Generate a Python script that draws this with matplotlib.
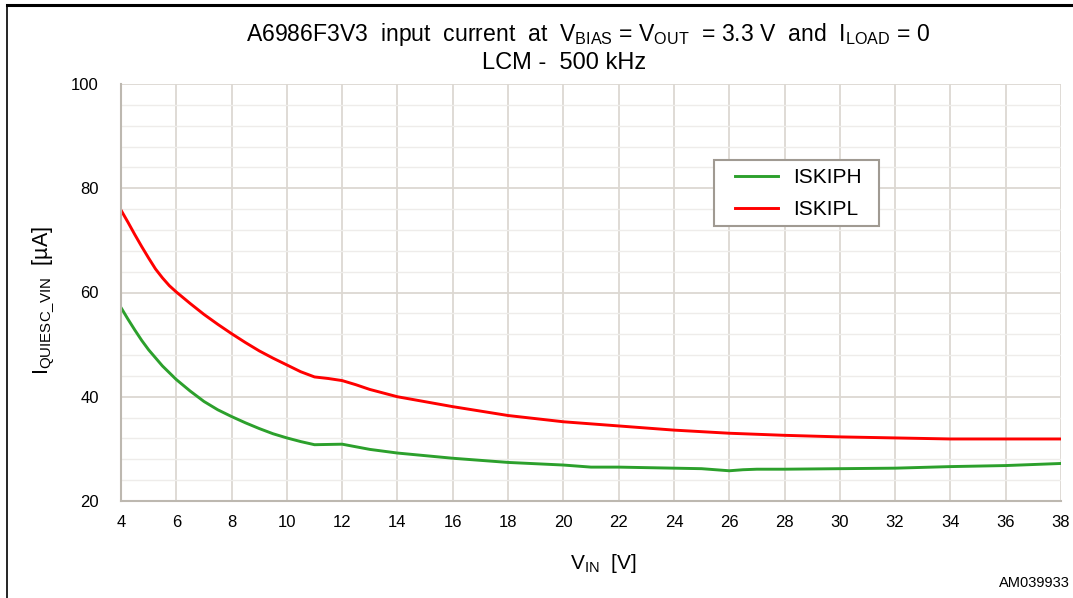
import matplotlib
matplotlib.use("Agg")
import matplotlib.pyplot as plt
from matplotlib.lines import Line2D
from matplotlib.patches import Rectangle
import numpy as np

plt.rcParams['font.family'] = ['Liberation Sans', 'DejaVu Sans']
plt.rcParams['mathtext.fontset'] = 'custom'
plt.rcParams['mathtext.rm'] = 'Liberation Sans'
plt.rcParams['mathtext.it'] = 'Liberation Sans'

# Data
vin_h = [4, 4.25, 4.5, 4.75, 5, 5.5, 6, 6.5, 7, 7.5, 8, 8.5, 9, 9.5, 10, 10.5, 11, 11.5, 12, 12.5, 13, 14,
         16, 18, 20, 21, 22, 24, 25, 26, 26.5, 27, 28, 30, 32, 34, 36, 38]
iskiph = [57.1, 54.9, 52.8, 50.8, 49.0, 45.9, 43.3, 41.1, 39.1, 37.5, 36.2, 35.0, 33.9, 32.9, 32.1, 31.4,
          30.8, 30.85, 30.9, 30.4, 29.9, 29.2,
          28.2, 27.4, 26.9, 26.5, 26.5, 26.3, 26.2, 25.8, 26.0, 26.1, 26.1, 26.2, 26.3, 26.6, 26.8, 27.2]
vin_l = [4, 4.25, 4.5, 4.75, 5, 5.25, 5.5, 5.75, 6, 6.5, 7, 7.5, 8, 8.5, 9, 9.5, 10, 10.5, 11, 11.5,
         12, 12.5, 13, 14, 16, 18, 20, 22, 24, 26, 28, 30, 32, 34, 36, 38]
iskipl = [75.8, 73.5, 71.1, 68.8, 66.6, 64.5, 62.8, 61.3, 60.1, 57.9, 55.8, 53.9, 52.1, 50.4, 48.8,
          47.4, 46.1, 44.8, 43.8, 43.5, 43.1, 42.3, 41.4, 40.0, 38.1, 36.4, 35.2, 34.4, 33.6, 33.0,
          32.6, 32.3, 32.1, 31.9, 31.9, 31.9]
xticks = list(range(4, 39, 2))
yticks = [20, 40, 60, 80, 100]

W, H = 1073, 598
fig = plt.figure(figsize=(W / 100, H / 100), dpi=100)
ax = fig.add_axes([121 / W, 1 - 501 / H, 940 / W, 417 / H])

ax.set_xlim(4, 38)
ax.set_ylim(20, 100)
ax.set_xticks(xticks)
ax.set_yticks(yticks)
ax.set_yticks(np.arange(20, 101, 4), minor=True)
ax.grid(True, which='major', color='#dcd8d2', lw=1.3)
ax.grid(True, which='minor', axis='y', color='#eeecea', lw=1.0)
ax.set_axisbelow(True)
for s in ['top', 'right']:
    ax.spines[s].set_visible(False)
for s in ['left', 'bottom']:
    ax.spines[s].set_color('#bdb8b0')
    ax.spines[s].set_linewidth(1.5)
ax.tick_params(which='both', length=0, labelsize=12, pad=10)
ax.tick_params(axis='y', pad=16)

ax.plot(vin_h, iskiph, color='#2ca02c', lw=2.1, label='ISKIPH')
ax.plot(vin_l, iskipl, color='#ff0000', lw=2.1, label='ISKIPL')

# legend frame (drawn separately to match padding)
ax.add_patch(Rectangle((714 / W, 1 - 226 / H), (879 - 714) / W, (226 - 160) / H,
                       transform=fig.transFigure, facecolor='white', edgecolor='#a09a92',
                       lw=1.5, zorder=4, clip_on=False))
leg = ax.legend(loc='upper left', bbox_to_anchor=((735 - 121) / 940, (501 - 168) / 417),
                fontsize=15, frameon=False, handlelength=2.05,
                handletextpad=0.72, borderpad=0, labelspacing=0.62, borderaxespad=0)
leg.set_zorder(5)

fig.text(588 / W, 1 - 34 / H,
         r'A6986F3V3  input  current  at  V$_{\mathregular{BIAS}}$ = V$_{\mathregular{OUT}}$  = 3.3 V  and  I$_{\mathregular{LOAD}}$ = 0',
         ha='center', va='center', fontsize=16.6)
fig.text(564 / W, 1 - 63 / H, 'LCM -  500 kHz', ha='center', va='center', fontsize=17)

ax.set_ylabel(r'I$_{\mathregular{QUIESC\_VIN}}$  [µA]', fontsize=15.5)
ax.yaxis.set_label_coords((57 - 121) / 940, (501 - 300) / 417)
ax.set_xlabel(r'V$_{\mathregular{IN}}$  [V]', fontsize=15)
ax.xaxis.set_label_coords((603 - 121) / 940, -(552 - 501) / 417)

fig.text(999 / W, 1 - 583 / H, 'AM039933', ha='left', va='center', fontsize=10.5)

# Frame lines
fig.add_artist(Line2D([7 / W, 7 / W], [0, 1 - 4.5 / H], color='black', lw=1.2))
fig.add_artist(Line2D([7 / W, 1], [1 - 4.5 / H, 1 - 4.5 / H], color='black', lw=2.2))

fig.savefig('out.png', dpi=100)
